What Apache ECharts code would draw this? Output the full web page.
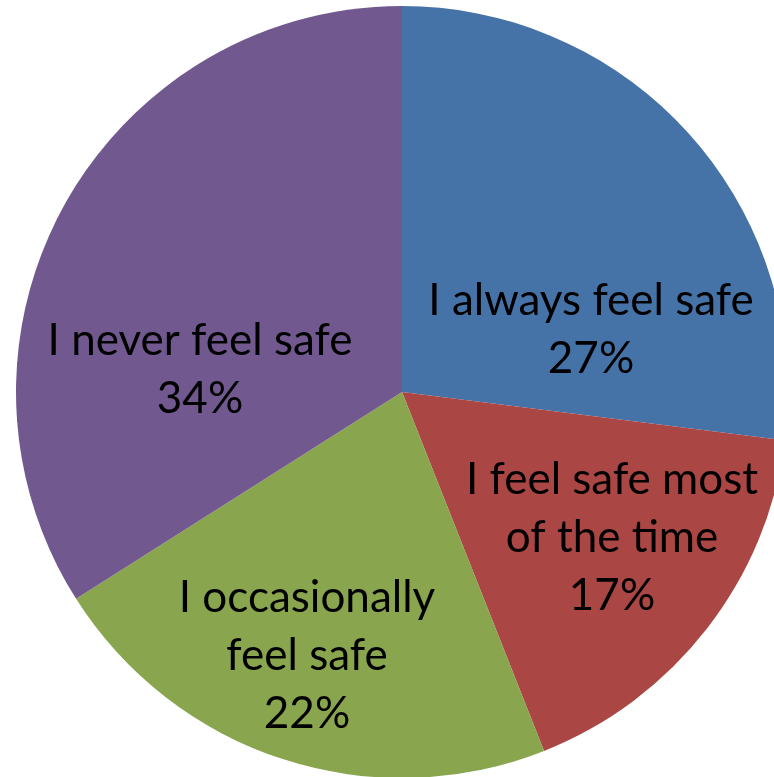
<!DOCTYPE html>
<html>
<head>
<meta charset="utf-8">
<script src="https://cdn.jsdelivr.net/npm/echarts@6/dist/echarts.min.js"></script>
<style>html,body{margin:0;padding:0;background:#fff;}#c{width:774px;height:777px;}</style>
</head>
<body>
<div id="c"></div>
<script>
const categories = ["I always feel safe", "I feel safe most of the time", "I occasionally feel safe", "I never feel safe"];
const labelText = ["I always feel safe", "I feel safe most\nof the time", "I occasionally\nfeel safe", "I never feel safe"];
const values = [27, 17, 22, 34];
const colors = ["#4572A7", "#AA4643", "#89A54E", "#71588F"];
const labelCenters = [[591, 330], [612, 538], [307, 656], [200, 370]];

const chart = echarts.init(document.getElementById('c'), null, {renderer: 'canvas'});
chart.setOption({
  animation: false,
  backgroundColor: '#fff',
  series: [{
    type: 'pie',
    center: [402, 392],
    radius: 386,
    startAngle: 90,
    clockwise: true,
    avoidLabelOverlap: false,
    itemStyle: {borderWidth: 0},
    emphasis: {disabled: true},
    label: {
      show: true,
      position: 'inside',
      color: '#000',
      fontFamily: 'Lato',
      fontSize: 44,
      lineHeight: 58,
      align: 'center',
      verticalAlign: 'middle',
      formatter: p => labelText[p.dataIndex] + '\n' + p.percent + '%'
    },
    labelLine: {show: false},
    labelLayout: p => ({x: labelCenters[p.dataIndex][0], y: labelCenters[p.dataIndex][1], align: 'center', verticalAlign: 'middle'}),
    data: categories.map((c, i) => ({name: c, value: values[i], itemStyle: {color: colors[i]}}))
  }]
});
</script>
</body>
</html>
